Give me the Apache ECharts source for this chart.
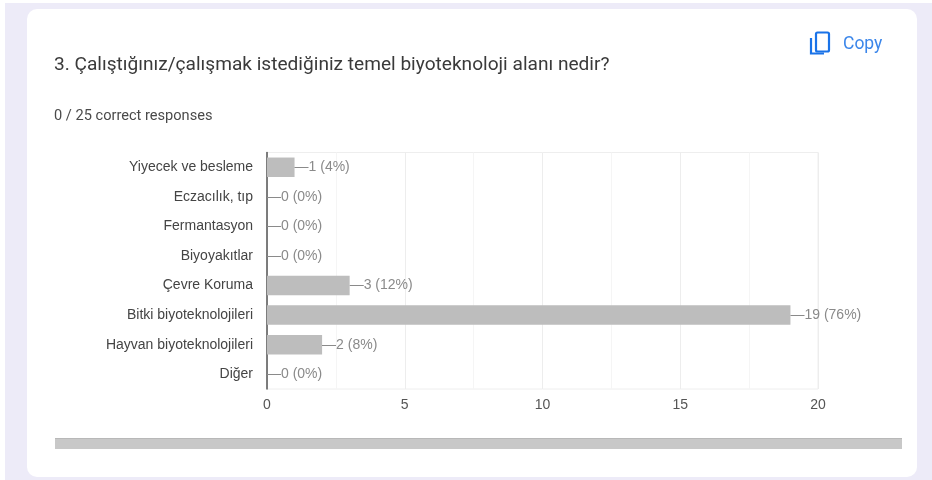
<!DOCTYPE html>
<html><head><meta charset="utf-8">
<style>html,body{margin:0;padding:0;background:#fff}#c{width:932px;height:480px}</style>
<script src="https://cdn.jsdelivr.net/npm/echarts@6/dist/echarts.min.js"></script>
</head><body><div id="c"></div>
<script>
const titleText = '3. Çalıştığınız/çalışmak istediğiniz temel biyoteknoloji alanı nedir?';
const subtitleText = '0 / 25 correct responses';
const copyText = 'Copy';
const categories = ['Yiyecek ve besleme','Eczacılık, tıp','Fermantasyon','Biyoyakıtlar','Çevre Koruma','Bitki biyoteknolojileri','Hayvan biyoteknolojileri','Diğer'];
const values = [1,0,0,0,3,19,2,0];
const percents = ['4%','0%','0%','0%','12%','76%','8%','0%'];
const chart = echarts.init(document.getElementById('c'), null, {renderer:'canvas'});
chart.setOption({
  animation:false,
  backgroundColor:'#fff',
  grid:{left:267,top:152.5,width:551,height:236.5,show:true,borderColor:'#eeeeee',borderWidth:1,containLabel:false},
  xAxis:{type:'value',min:0,max:20,interval:5,minorTick:{show:false,splitNumber:2},
    axisLine:{show:false},axisTick:{show:false},
    axisLabel:{color:'#555',fontFamily:'Liberation Sans',fontSize:14,margin:9},
    splitLine:{show:true,lineStyle:{color:'#ededed',width:1}},
    minorSplitLine:{show:true,lineStyle:{color:'#f5f5f5',width:1}}},
  yAxis:{type:'category',inverse:true,data:categories,
    axisLine:{show:true,lineStyle:{color:'#555',width:1.5}},axisTick:{show:false},
    axisLabel:{color:'#444',fontFamily:'Liberation Sans',fontSize:14,margin:14,padding:[2,0,0,0]}},
  series:[{type:'bar',data:values,barWidth:19.5,z:3,
    itemStyle:{color:'#bdbdbd'},
    label:{show:true,position:'right',distance:0,color:'#8a8a8a',fontFamily:'Liberation Sans',fontSize:14,padding:[2,0,0,0],
      formatter:p=>'—'+values[p.dataIndex]+' ('+percents[p.dataIndex]+')'}}],
  graphic:[
    {type:'rect',silent:true,z:-10,shape:{x:5,y:3,width:927,height:477},style:{fill:'#edebf8'}},
    {type:'rect',silent:true,z:-9,shape:{x:27,y:9,width:890,height:468,r:10},style:{fill:'#fff'}},
    {type:'text',z:5,x:54,y:56,style:{text:titleText,fill:'#3a3a3a',font:'19.1px Roboto'}},
    {type:'text',z:5,x:54,y:109,style:{text:subtitleText,fill:'#4a4a4a',font:'14.6px Roboto'}},
    {type:'text',z:5,x:843,y:36,style:{text:copyText,fill:'#3b86ea',font:'400 17.5px Roboto'}},
    {type:'rect',z:5,shape:{x:816,y:32.5,width:13,height:19,r:1.5},style:{fill:'none',stroke:'#1a73e8',lineWidth:2.2}},
    {type:'polyline',z:5,shape:{points:[[811,38],[811,53.5],[824,53.5]]},style:{fill:'none',stroke:'#1a73e8',lineWidth:2.2}},
    {type:'rect',z:5,shape:{x:55,y:438,width:847,height:11},style:{fill:'#c8c8c8'}},
    {type:'rect',z:6,shape:{x:55,y:438,width:847,height:1},style:{fill:'#b8b8b8'}}
  ]
});
</script></body></html>
